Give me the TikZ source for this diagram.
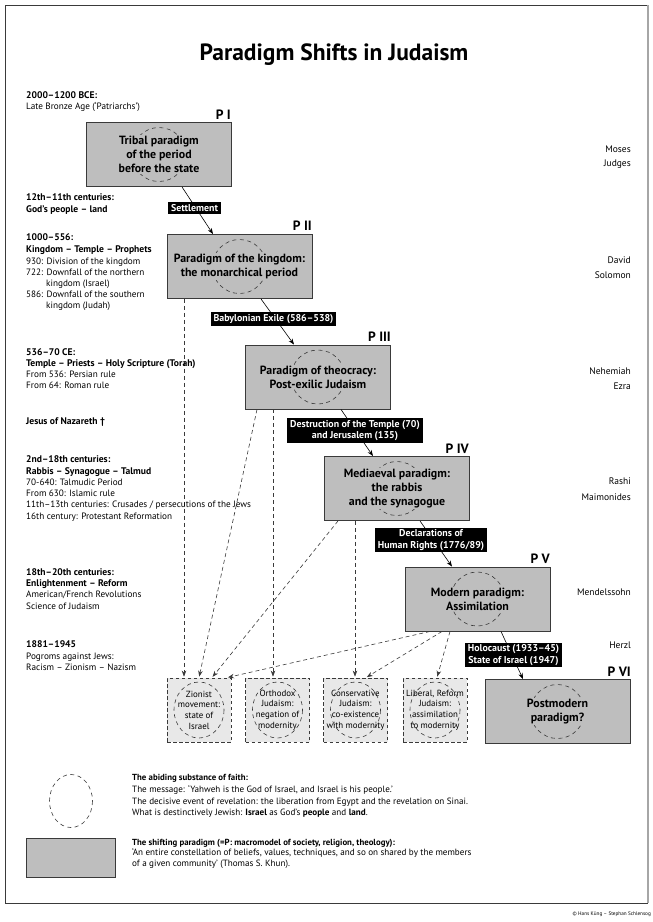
\documentclass[tikz,border=0pt]{standalone}
\usepackage{fontspec}
\setmainfont{PT Sans}
\usetikzlibrary{arrows.meta}
\definecolor{boxgray}{HTML}{BEBEBE}
\definecolor{lightbox}{HTML}{E8E8E8}
\definecolor{edge}{HTML}{3A3A3A}
\newcommand{\fsz}[2]{\fontsize{#1}{#2}\selectfont}
\begin{document}
\begin{tikzpicture}[x=1pt,y=-1pt,
  para/.style={draw=edge, line width=0.9pt, fill=boxgray, minimum width=145, minimum height=64, inner sep=0},
  paratext/.style={fill=boxgray, inner sep=1pt, align=center, font=\fsz{11.9}{14.2}\bfseries},
  circ/.style={draw=edge, line width=0.6pt, dash pattern=on 4pt off 3.5pt},
  alt/.style={draw=edge, line width=0.8pt, dash pattern=on 3.5pt off 2.5pt, fill=lightbox, minimum width=64, minimum height=64, inner sep=0},
  alttext/.style={inner sep=0, align=center, font=\fsz{8.9}{10.7}},
  plabel/.style={anchor=base east, inner sep=0, font=\fsz{13.5}{15}\bfseries},
  event/.style={fill=black, text=white, inner xsep=3pt, inner ysep=2pt, align=center, font=\fsz{9.9}{11.5}\bfseries},
  mainarrow/.style={draw=black, line width=0.6pt, -{Stealth[length=6pt,width=4.5pt]}},
  darrow/.style={draw=edge, line width=0.6pt, dash pattern=on 4pt off 3pt, -{Stealth[length=6pt,width=4.5pt]}, shorten >=1pt},
  lt/.style={anchor=base west, inner sep=0, font=\fsz{9.2}{10}},
  ltb/.style={anchor=base west, inner sep=0, font=\fsz{9.6}{10}\bfseries},
  rt/.style={anchor=base east, inner sep=0, font=\fsz{9.5}{10}},
  legb/.style={anchor=base west, inner sep=0, font=\fsz{8.8}{10}\bfseries},
  leg/.style={anchor=base west, inner sep=0, font=\fsz{9.1}{10}}
]
\useasboundingbox (0,0) rectangle (653,922);
\fill[white] (0,0) rectangle (653,922);
% frame
\draw[edge, line width=1pt] (5,5) rectangle (647,903);
\draw[gray!70, line width=2.5pt] (648,5) -- (648,903);
\node[anchor=base east, inner sep=0, font=\fsz{5.2}{6}] (copy) at (651,915) {© Hans Küng – Stephan Schlensog};

% title
\node[anchor=base, inner sep=0, font=\fsz{23.5}{26}\bfseries] (title) at (334,60) {Paradigm Shifts in Judaism};

% paradigm boxes
\node[para] (p1) at (159,154.5) {};
\node[para] (p2) at (239.5,266.5) {};
\node[para] (p3) at (318,377) {};
\node[para] (p4) at (397,488.5) {};
\node[para] (p5) at (477.5,599) {};
\node[para] (p6) at (557.5,711.5) {};
\foreach \n in {p1,p2,p3,p4,p5,p6} \draw[circ] (\n.center) circle[radius=27];
\node[paratext] (p1t) at (p1.center) {Tribal paradigm\\of the period\\before the state};
\node[paratext] (p2t) at (p2.center) {Paradigm of the kingdom:\\the monarchical period};
\node[paratext] (p3t) at (p3.center) {Paradigm of theocracy:\\Post-exilic Judaism};
\node[paratext] (p4t) at (p4.center) {Mediaeval paradigm:\\the rabbis\\and the synagogue};
\node[paratext] (p5t) at (p5.center) {Modern paradigm:\\Assimilation};
\node[paratext] (p6t) at (p6.center) {Postmodern\\paradigm?};

\node[plabel] (l1) at (231,119) {P I};
\node[plabel] (l2) at (312,230) {P II};
\node[plabel] (l3) at (391,341) {P III};
\node[plabel] (l4) at (469,453) {P IV};
\node[plabel] (l5) at (550,563) {P V};
\node[plabel] (l6) at (631,676) {P VI};

% alternative boxes
\node[alt] (bz) at (199,710) {};
\node[alt] (bo) at (277.5,710) {};
\node[alt] (bc) at (355.5,710) {};
\node[alt] (bl) at (435,710) {};
\foreach \n in {bz,bo,bc,bl} \draw[circ] (\n.center) ellipse[x radius=25, y radius=28];
\node[alttext] (bzt) at (bz.center) {Zionist\\movement:\\state of\\Israel};
\node[alttext] (bot) at (bo.center) {Orthodox\\Judaism:\\negation of\\modernity};
\node[alttext] (bct) at (bc.center) {Conservative\\Judaism:\\co-existence\\with modernity};
\node[alttext] (blt) at (bl.center) {Liberal, Reform\\Judaism:\\assimilation\\to modernity};

% main arrows
\draw[mainarrow] (p1.south -| 182,0) -- (p2.north -| 213,0);
\draw[mainarrow] (p2.south -| 261,0) -- (p3.north -| 294,0);
\draw[mainarrow] (p3.south -| 341,0) -- (p4.north -| 373,0);
\draw[mainarrow] (p4.south -| 420,0) -- (p5.north -| 452,0);
\draw[mainarrow] (p5.south -| 501,0) -- (p6.north -| 523,0);

% dashed arrows
\draw[darrow] (p2.south -| 184,0) -- (bz.north -| 184,0);
\draw[darrow] (p3.south -| 257,0) -- (bz.north -| 199,0);
\draw[darrow] (p3.south -| 273,0) -- (bo.north -| 273,0);
\draw[darrow] (p4.south -| 338,0) -- (bz.north -| 212,0);
\draw[darrow] (p4.south -| 355,0) -- (bc.north -| 355,0);
\draw[darrow] (p5.south -| 430,0) -- (bz.north -| 227,0);
\draw[darrow] (p5.south -| 442,0) -- (bc.north -| 366,0);
\draw[darrow] (p5.south -| 450,0) -- (bl.north -| 437,0);

% event labels
\node[event] (e1) at (194.5,208) {Settlement};
\node[event] (e2) at (273.5,319) {Babylonian Exile (586–538)};
\node[event] (e3) at (355,430.5) {Destruction of the Temple (70)\\and Jerusalem (135)};
\node[event] (e4) at (431,540) {Declarations of\\Human Rights (1776/89)};
\node[event] (e5) at (513.5,655) {Holocaust (1933–45)\\State of Israel (1947)};

% left column
\node[ltb] (a1) at (26,98) {2000–1200 BCE:};
\node[lt]  (a2) at (26,109) {Late Bronze Age (‘Patriarchs’)};
\node[ltb] (b1) at (26,200) {12th–11th centuries:};
\node[ltb] (b2) at (26,212.5) {God’s people – land};
\node[ltb] (c1) at (26,240) {1000–556:};
\node[ltb] (c2) at (26,252) {Kingdom – Temple – Prophets};
\node[lt]  (c3) at (26,264) {930: Division of the kingdom};
\node[lt]  (c4) at (26,275) {722: Downfall of the northern};
\node[lt]  (c5) at (46,286) {kingdom (Israel)};
\node[lt]  (c6) at (26,297) {586: Downfall of the southern};
\node[lt]  (c7) at (46,308) {kingdom (Judah)};
\node[ltb] (d1) at (26,355) {536–70 CE:};
\node[ltb] (d2) at (26,366) {Temple – Priests – Holy Scripture (Torah)};
\node[lt]  (d3) at (26,377) {From 536: Persian rule};
\node[lt]  (d4) at (26,388) {From 64: Roman rule};
\node[ltb] (e0) at (26,424) {Jesus of Nazareth †};
\node[ltb] (f1) at (26,462) {2nd–18th centuries:};
\node[ltb] (f2) at (26,474) {Rabbis – Synagogue – Talmud};
\node[lt]  (f3) at (26,485) {70-640: Talmudic Period};
\node[lt]  (f4) at (26,496) {From 630: Islamic rule};
\node[lt]  (f5) at (26,507) {11th–13th centuries: Crusades / persecutions of the Jews};
\node[lt]  (f6) at (26,519) {16th century: Protestant Reformation};
\node[ltb] (g1) at (26,575) {18th–20th centuries:};
\node[ltb] (g2) at (26,586) {Enlightenment – Reform};
\node[lt]  (g3) at (26,597) {American/French Revolutions};
\node[lt]  (g4) at (26,609) {Science of Judaism};
\node[ltb] (h1) at (26,647) {1881–1945};
\node[lt]  (h2) at (26,659) {Pogroms against Jews:};
\node[lt]  (h3) at (26,670) {Racism – Zionism – Nazism};

% right column
\node[rt] (r1) at (631,152) {Moses};
\node[rt] (r2) at (631,166) {Judges};
\node[rt] (r3) at (631,263) {David};
\node[rt] (r4) at (631,278) {Solomon};
\node[rt] (r5) at (631,374) {Nehemiah};
\node[rt] (r6) at (631,389) {Ezra};
\node[rt] (r7) at (631,484) {Rashi};
\node[rt] (r8) at (631,500) {Maimonides};
\node[rt] (r9) at (631,595) {Mendelssohn};
\node[rt] (r10) at (631,648) {Herzl};

% legend
\draw[circ] (71,801) ellipse[x radius=21.5, y radius=26.5];
\node[draw=edge, line width=0.9pt, fill=boxgray, minimum width=89, minimum height=39, inner sep=0] (legbox) at (70.5,857.5) {};
\node[legb] (m1) at (132,780) {The abiding substance of faith:};
\node[leg]  (m2) at (132,792.5) {The message: ‘Yahweh is the God of Israel, and Israel is his people.’};
\node[leg]  (m3) at (132,804) {The decisive event of revelation: the liberation from Egypt and the revelation on Sinai.};
\node[leg]  (m4) at (132,815.5) {What is destinctively Jewish: \textbf{Israel} as God’s \textbf{people} and \textbf{land}.};
\node[legb] (n1) at (132,845) {The shifting paradigm (=P: macromodel of society, religion, theology):};
\node[leg]  (n2) at (132,855.5) {‘An entire constellation of beliefs, values, techniques, and so on shared by the members};
\node[leg]  (n3) at (132,866) {of a given community’ (Thomas S. Khun).};
\end{tikzpicture}
\end{document}
